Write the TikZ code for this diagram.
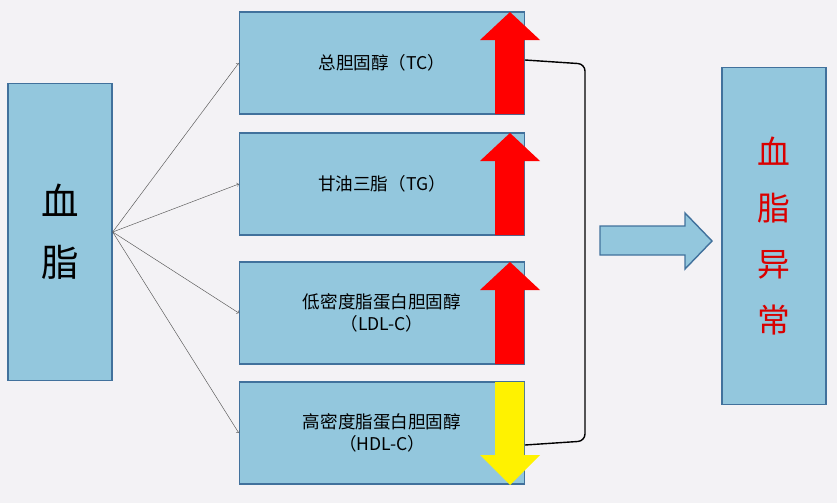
\documentclass[tikz,border=0pt]{standalone}
\usepackage{fontspec}
\newfontfamily\cjk{Noto Sans CJK SC}
\usetikzlibrary{positioning}
\definecolor{bgc}{HTML}{F3F2F5}
\definecolor{boxc}{HTML}{93C7DD}
\definecolor{edgec}{HTML}{41719C}
\tikzset{
  item/.style={draw=edgec,fill=boxc,line width=1.2pt,minimum width=285*0.03cm,minimum height=102*0.03cm,font=\cjk\fontsize{15}{19}\selectfont,align=center},
  side/.style={draw=edgec,fill=boxc,line width=1.2pt,minimum width=104*0.03cm,align=center},
}
\newcommand{\uparr}[2]{\fill[#1] (495,#2+102) -- (524,#2+102) -- (524,#2+28) -- (540,#2+28) -- (510,#2) -- (480,#2+28) -- (495,#2+28) -- cycle;}
\begin{document}
\begin{tikzpicture}[x=0.03cm,y=-0.03cm]
\fill[bgc] (0,0) rectangle (837,503);
\useasboundingbox (0,0) rectangle (837,503);
\node[side,minimum height=297*0.03cm,font=\cjk\fontsize{32}{52}\selectfont] (xz) at (60,232) {血\\脂};
\node[item] (tc) at (382,63) {总胆固醇（TC）};
\node[item] (tg) at (382,184) {甘油三脂（TG）};
\node[item] (ldl) at (382,313) {低密度脂蛋白胆固醇\\（LDL-C）};
\node[item] (hdl) at (382,433) {高密度脂蛋白胆固醇\\（HDL-C）};
\node[side,minimum height=337*0.03cm,font=\cjk\fontsize{28}{48}\selectfont,text=red!85!black] (yc) at (774,236) {血\\脂\\异\\常};
% fan
\foreach \t in {tc,tg,ldl,hdl}
  \draw[->,gray!70!black,thin] (xz.east) -- (\t.west);
% level arrows
\uparr{red}{12}
\uparr{red}{133}
\uparr{red}{262}
\fill[yellow] (495,382) -- (524,382) -- (524,455) -- (540,455) -- (510,485) -- (480,455) -- (495,455) -- cycle;
% bracket
\coordinate (b1) at (525,60);
\coordinate (b2) at (525,445);
\draw[line width=1.2pt,rounded corners=6pt] (b1) -- (585,64) -- (585,441) -- (b2);
% big arrow
\draw[edgec,fill=boxc,line width=1.2pt] (600,226) -- (685,226) -- (685,213) -- (712,241) -- (685,269) -- (685,255) -- (600,255) -- cycle;
\end{tikzpicture}
\end{document}
